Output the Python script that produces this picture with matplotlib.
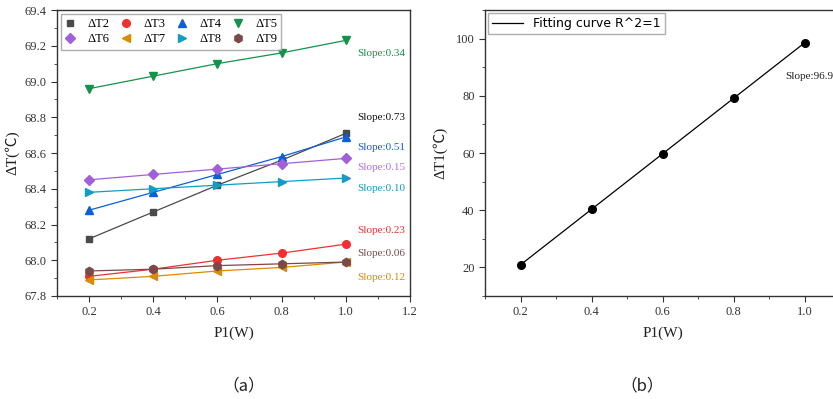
import matplotlib
matplotlib.use("Agg")
import matplotlib.pyplot as plt
from matplotlib.ticker import MultipleLocator, FormatStrFormatter

plt.rcParams['font.family'] = ['Liberation Serif', 'Noto Sans CJK SC', 'DejaVu Sans']
plt.rcParams['mathtext.fontset'] = 'stix'

# ---------------- data ----------------
power = [0.2, 0.4, 0.6, 0.8, 1.0]
labels = ["ΔT2", "ΔT3", "ΔT4", "ΔT5", "ΔT6", "ΔT7", "ΔT8", "ΔT9"]
dT2 = [68.12, 68.27, 68.42, 68.56, 68.71]
dT3 = [67.91, 67.95, 68.00, 68.04, 68.09]
dT4 = [68.28, 68.38, 68.48, 68.58, 68.69]
dT5 = [68.96, 69.03, 69.10, 69.16, 69.23]
dT6 = [68.45, 68.48, 68.51, 68.54, 68.57]
dT7 = [67.89, 67.91, 67.94, 67.96, 67.99]
dT8 = [68.38, 68.40, 68.42, 68.44, 68.46]
dT9 = [67.94, 67.95, 67.97, 67.98, 67.99]
series = [dT2, dT3, dT4, dT5, dT6, dT7, dT8, dT9]
slope_texts = ["Slope:0.73", "Slope:0.23", "Slope:0.51", "Slope:0.34",
               "Slope:0.15", "Slope:0.12", "Slope:0.10", "Slope:0.06"]
slope_y = [68.80, 68.165, 68.63, 69.155, 68.52, 67.905, 68.40, 68.04]

dT1 = [20.9, 40.3, 59.7, 79.1, 98.5]
slope_b = "Slope:96.9"

# ---------------- styles ----------------
colors = ["#4a4a4a", "#f03030", "#0d5fd6", "#13934a", "#a260d8", "#d98c00", "#139bc8", "#7a4a48"]
text_colors = ["#111111", "#f03030", "#0d5fd6", "#13934a", "#b070e0", "#d98c00", "#139bc8", "#7a4a48"]
markers = ["s", "o", "^", "v", "D", "<", ">", "h"]
msizes = [4.8, 5.5, 5.5, 5.5, 4.8, 5.5, 5.5, 6]

fig = plt.figure(figsize=(8.33, 3.99), dpi=100)
axa = fig.add_axes([57/833, 103/399, 353/833, 286/399])
axb = fig.add_axes([485/833, 103/399, 355/833, 286/399])

for ax in (axa, axb):
    for sp in ax.spines.values():
        sp.set_linewidth(1.0)
        sp.set_color("#333333")
    ax.tick_params(which="both", direction="out", top=False, right=False,
                   labelsize=9, colors="#333333")
    ax.tick_params(which="major", length=4)
    ax.tick_params(which="minor", length=2.5)

handles = []
for y, c, m, ms, lab in zip(series, colors, markers, msizes, labels):
    ln, = axa.plot(power, y, color=c, marker=m, markersize=ms, lw=0.9, label=lab)
    handles.append(ln)

for t, ty, c in zip(slope_texts, slope_y, text_colors):
    axa.text(1.035, ty, t, color=c, fontsize=8, va="center", ha="left")

axa.set_xlim(0.1, 1.2)
axa.set_ylim(67.8, 69.4)
axa.xaxis.set_major_locator(MultipleLocator(0.2))
axa.xaxis.set_minor_locator(MultipleLocator(0.1))
axa.yaxis.set_major_locator(MultipleLocator(0.2))
axa.yaxis.set_minor_locator(MultipleLocator(0.1))
axa.xaxis.set_major_formatter(FormatStrFormatter("%.1f"))
axa.yaxis.set_major_formatter(FormatStrFormatter("%.1f"))
axa.set_xlabel("P1(W)", fontsize=11, color="#222222", labelpad=6)
axa.set_ylabel("ΔT(℃)", fontsize=11, color="#222222", labelpad=4)

# legend filled row-wise (4 columns x 2 rows)
order = [0, 4, 1, 5, 2, 6, 3, 7]
leg = axa.legend([handles[i] for i in order], [labels[i] for i in order],
                 ncol=4, loc="upper left", fontsize=9, frameon=True, fancybox=False,
                 edgecolor="#999999", handlelength=0.8, handletextpad=1.0,
                 columnspacing=0.9, borderaxespad=0.3, borderpad=0.35,
                 labelspacing=0.25)
for h in leg.legend_handles:
    h.set_linestyle("none")

axb.plot(power, dT1, color="black", lw=0.9, label="Fitting curve R^2=1")
axb.plot(power, dT1, color="black", marker="o", markersize=5.5, linestyle="none")
axb.text(0.946, 86.6, slope_b, fontsize=8, va="center", ha="left", color="#222222")
axb.set_xlim(0.1, 1.1)
axb.set_ylim(10, 110)
axb.xaxis.set_major_locator(MultipleLocator(0.2))
axb.xaxis.set_minor_locator(MultipleLocator(0.1))
axb.yaxis.set_major_locator(MultipleLocator(20))
axb.yaxis.set_minor_locator(MultipleLocator(10))
axb.xaxis.set_major_formatter(FormatStrFormatter("%.1f"))
axb.set_xlabel("P1(W)", fontsize=11, color="#222222", labelpad=6)
axb.set_ylabel("ΔT1(℃)", fontsize=11, color="#222222", labelpad=6)
axb.legend(loc="upper left", prop={"family": "DejaVu Sans", "size": 9}, frameon=True,
           fancybox=False, edgecolor="#999999", handlelength=2.5, borderaxespad=0.25,
           borderpad=0.3)

fig.text(244/833, 1 - 386/399, "（a）", ha="center", va="center", fontsize=12,
         family=["Noto Sans CJK SC", "DejaVu Sans"], color="#222222")
fig.text(642/833, 1 - 386/399, "（b）", ha="center", va="center", fontsize=12,
         family=["Noto Sans CJK SC", "DejaVu Sans"], color="#222222")

fig.savefig("out.png", dpi=100)
